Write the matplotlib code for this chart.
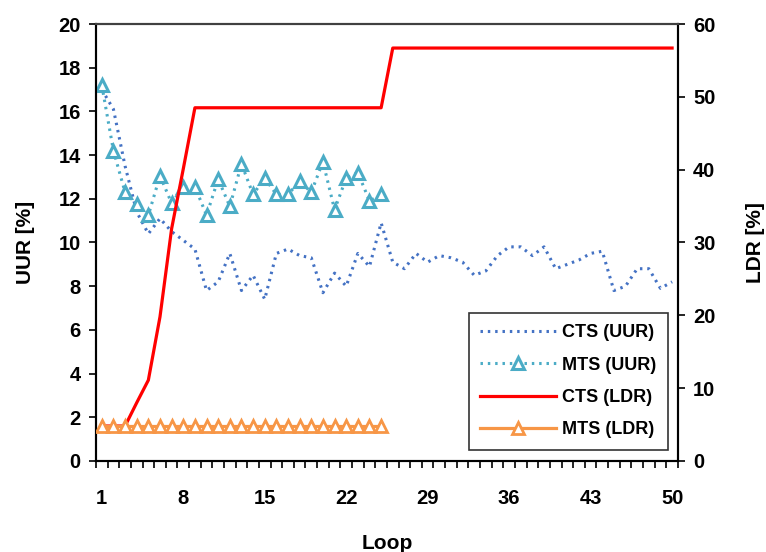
import matplotlib
matplotlib.use("Agg")
import matplotlib.pyplot as plt
import numpy as np

plt.rcParams['font.family'] = ['Liberation Sans', 'DejaVu Sans']
plt.rcParams['font.weight'] = 'bold'

loops = list(range(1, 51))
cts_uur = [17.0, 16.1, 13.5, 11.4, 10.4, 11.1, 10.5, 10.1, 9.7, 7.8,
           8.2, 9.5, 7.8, 8.5, 7.4, 9.5, 9.7, 9.4, 9.3, 7.7,
           8.6, 8.0, 9.5, 8.9, 10.9, 9.1, 8.8, 9.5, 9.1, 9.4,
           9.3, 9.1, 8.5, 8.7, 9.4, 9.8, 9.8, 9.4, 9.8, 8.8,
           9.0, 9.2, 9.5, 9.6, 7.8, 8.0, 8.8, 8.8, 7.9, 8.2]
mts_loops = list(range(1, 26))
mts_uur = [17.2, 14.2, 12.3, 11.75, 11.25, 13.05, 11.8, 12.55, 12.55, 11.25,
           12.9, 11.65, 13.6, 12.2, 12.95, 12.2, 12.2, 12.8, 12.3, 13.7,
           11.5, 12.95, 13.2, 11.9, 12.2]
cts_ldr = [4.8, 4.8, 4.8, 8.0, 11.1, 19.8, 31.9, 40.1, 48.5, 48.5,
           48.5, 48.5, 48.5, 48.5, 48.5, 48.5, 48.5, 48.5, 48.5, 48.5,
           48.5, 48.5, 48.5, 48.5, 48.5, 56.7, 56.7, 56.7, 56.7, 56.7,
           56.7, 56.7, 56.7, 56.7, 56.7, 56.7, 56.7, 56.7, 56.7, 56.7,
           56.7, 56.7, 56.7, 56.7, 56.7, 56.7, 56.7, 56.7, 56.7, 56.7]
mts_ldr = [4.8] * 25
xtick_labels = [1, 8, 15, 22, 29, 36, 43, 50]

fig = plt.figure(figsize=(7.66, 5.52), dpi=100)
ax = fig.add_axes([0.1253, 0.1649, 0.885 - 0.1253, 0.9565 - 0.1649])
ax2 = ax.twinx()

c_blue = '#4472C4'
c_aqua = '#4BACC6'
c_red = '#FF0000'
c_orange = '#F79646'

l1, = ax.plot(loops, cts_uur, color=c_blue, lw=2.2, linestyle=(0, (0.8, 1.6)),
              label='CTS (UUR)', zorder=3)
l2, = ax.plot(mts_loops, mts_uur, color=c_aqua, lw=2.2, linestyle=(0, (0.8, 1.6)),
              marker='^', markersize=8.5, markerfacecolor='white',
              markeredgecolor=c_aqua, markeredgewidth=2.2, label='MTS (UUR)', zorder=4)
l3, = ax2.plot(loops, cts_ldr, color=c_red, lw=2.3, label='CTS (LDR)', zorder=3)
l4, = ax2.plot(mts_loops, mts_ldr, color=c_orange, lw=2.3,
               marker='^', markersize=8, markerfacecolor='white',
               markeredgecolor=c_orange, markeredgewidth=2.0, label='MTS (LDR)', zorder=4)

ax.set_xlim(0.5, 50.5)
ax.set_ylim(0, 20)
ax2.set_ylim(0, 60)

ax.set_yticks(np.arange(0, 21, 2))
ax2.set_yticks(np.arange(0, 61, 10))
ax.set_xticks(np.arange(0.5, 51, 1))
ax.set_xticklabels([])
ax.set_xticks(xtick_labels, minor=True)
ax.set_xticklabels([str(v) for v in xtick_labels], minor=True)
ax.tick_params(axis='x', which='major', direction='out', length=5, width=1.2)
ax.tick_params(axis='x', which='minor', length=0, pad=20, labelsize=14.5)
ax.tick_params(axis='y', direction='out', length=5, width=1.2, labelsize=14.5, pad=6)
ax2.tick_params(axis='y', direction='out', length=5, width=1.2, labelsize=14.5, pad=6)

for a in (ax, ax2):
    for s in a.spines.values():
        s.set_linewidth(1.5)
        s.set_color('black')
ax2.spines['top'].set_color('#404040')

ax.set_xlabel('Loop', fontsize=15, fontweight='bold', labelpad=19)
ax.set_ylabel('UUR [%]', fontsize=15, fontweight='bold', labelpad=17)
ax2.set_ylabel('LDR [%]', fontsize=15, fontweight='bold', labelpad=22)

leg = ax2.legend(handles=[l1, l2, l3, l4], loc='lower right',
                 bbox_to_anchor=(0.998, 0.004), frameon=True,
                 fancybox=False, edgecolor='black', handlelength=4.2,
                 labelspacing=0.85, borderpad=0.65, handletextpad=0.3,
                 prop={'weight': 'bold', 'size': 13})
leg.get_frame().set_linewidth(1.2)
leg.set_zorder(10)

fig.savefig('out.png', dpi=100)
